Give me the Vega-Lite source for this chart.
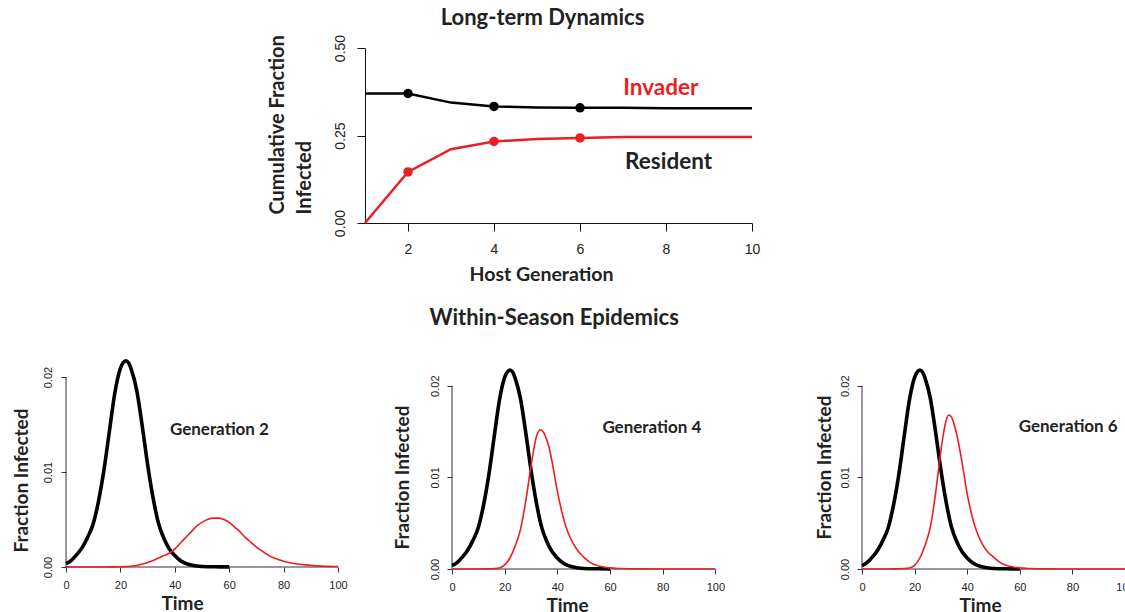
{
  "$schema": "https://vega.github.io/schema/vega-lite/v6.json",
  "background": "white",
  "padding": {"left": 11, "top": 7, "right": 0, "bottom": 0},
  "config": {
    "view": {"stroke": null},
    "font": "Lato",
    "axis": {"grid": false, "labelFont": "Liberation Sans", "labelColor": "#222", "titleFont": "Lato", "titleFontWeight": "bold", "titleColor": "#222", "domainColor": "#333", "tickColor": "#333", "labelFlush": false, "labelOverlap": false},
    "title": {"font": "Lato", "fontWeight": "bold", "fontSize": 22, "color": "#222"}
  },
  "datasets": {
    "longterm": [
      {"gen": 1, "series": "Resident", "value": 0.370}, {"gen": 2, "series": "Resident", "value": 0.370}, {"gen": 3, "series": "Resident", "value": 0.344}, {"gen": 4, "series": "Resident", "value": 0.333}, {"gen": 5, "series": "Resident", "value": 0.330}, {"gen": 6, "series": "Resident", "value": 0.329}, {"gen": 7, "series": "Resident", "value": 0.329}, {"gen": 8, "series": "Resident", "value": 0.328}, {"gen": 9, "series": "Resident", "value": 0.328}, {"gen": 10, "series": "Resident", "value": 0.328},
      {"gen": 1, "series": "Invader", "value": 0.000}, {"gen": 2, "series": "Invader", "value": 0.146}, {"gen": 3, "series": "Invader", "value": 0.211}, {"gen": 4, "series": "Invader", "value": 0.233}, {"gen": 5, "series": "Invader", "value": 0.240}, {"gen": 6, "series": "Invader", "value": 0.243}, {"gen": 7, "series": "Invader", "value": 0.246}, {"gen": 8, "series": "Invader", "value": 0.246}, {"gen": 9, "series": "Invader", "value": 0.246}, {"gen": 10, "series": "Invader", "value": 0.246}
    ],
    "toplabels": [
      {"gen": 7.88, "value": 0.387, "label": "Invader"},
      {"gen": 8.06, "value": 0.173, "label": "Resident"}
    ],
    "frame": [
      {"t": 0, "value": 0, "t2": 0, "value2": 0.02},
      {"t": 0, "value": 0, "t2": 100, "value2": 0}
    ],
    "resident": [
      {"t": 0, "value": 0.00036}, {"t": 2, "value": 0.00071}, {"t": 4, "value": 0.00132}, {"t": 6, "value": 0.00207}, {"t": 8, "value": 0.00315}, {"t": 10, "value": 0.00454}, {"t": 12, "value": 0.0070}, {"t": 14, "value": 0.0103}, {"t": 16, "value": 0.0144}, {"t": 18, "value": 0.0184}, {"t": 20, "value": 0.0209}, {"t": 21, "value": 0.0215}, {"t": 22, "value": 0.0217}, {"t": 23, "value": 0.0215}, {"t": 24, "value": 0.0208}, {"t": 26, "value": 0.0186}, {"t": 28, "value": 0.0149}, {"t": 30, "value": 0.0108}, {"t": 32, "value": 0.0073}, {"t": 34, "value": 0.0046}, {"t": 36, "value": 0.0030}, {"t": 38, "value": 0.0019}, {"t": 40, "value": 0.0012}, {"t": 42, "value": 0.00068}, {"t": 44, "value": 0.00039}, {"t": 46, "value": 0.00021}, {"t": 48, "value": 0.00011}, {"t": 50, "value": 0.00006}, {"t": 55, "value": 0.00002}, {"t": 60, "value": 0.00001}
    ],
    "invader": [
      {"panel": 2, "t": 0, "value": 0}, {"panel": 2, "t": 10, "value": 0}, {"panel": 2, "t": 16, "value": 0.00001}, {"panel": 2, "t": 20, "value": 0.00002}, {"panel": 2, "t": 24, "value": 0.00008}, {"panel": 2, "t": 26, "value": 0.00015}, {"panel": 2, "t": 28, "value": 0.0003}, {"panel": 2, "t": 30, "value": 0.00048}, {"panel": 2, "t": 32, "value": 0.00068}, {"panel": 2, "t": 34, "value": 0.00095}, {"panel": 2, "t": 36, "value": 0.0012}, {"panel": 2, "t": 38, "value": 0.00145}, {"panel": 2, "t": 40, "value": 0.0019}, {"panel": 2, "t": 42, "value": 0.0025}, {"panel": 2, "t": 44, "value": 0.0031}, {"panel": 2, "t": 46, "value": 0.0037}, {"panel": 2, "t": 48, "value": 0.0043}, {"panel": 2, "t": 50, "value": 0.0047}, {"panel": 2, "t": 52, "value": 0.0050}, {"panel": 2, "t": 54, "value": 0.00515}, {"panel": 2, "t": 56, "value": 0.00515}, {"panel": 2, "t": 58, "value": 0.0050}, {"panel": 2, "t": 60, "value": 0.0047}, {"panel": 2, "t": 62, "value": 0.0042}, {"panel": 2, "t": 64, "value": 0.0037}, {"panel": 2, "t": 66, "value": 0.0031}, {"panel": 2, "t": 68, "value": 0.0026}, {"panel": 2, "t": 70, "value": 0.0021}, {"panel": 2, "t": 72, "value": 0.0017}, {"panel": 2, "t": 74, "value": 0.0013}, {"panel": 2, "t": 76, "value": 0.0010}, {"panel": 2, "t": 78, "value": 0.0008}, {"panel": 2, "t": 80, "value": 0.0006}, {"panel": 2, "t": 84, "value": 0.00037}, {"panel": 2, "t": 88, "value": 0.00022}, {"panel": 2, "t": 92, "value": 0.00012}, {"panel": 2, "t": 96, "value": 0.00007}, {"panel": 2, "t": 100, "value": 0.00004},
      {"panel": 4, "t": 0, "value": 0}, {"panel": 4, "t": 10, "value": 0}, {"panel": 4, "t": 14, "value": 0.00001}, {"panel": 4, "t": 16, "value": 0.00004}, {"panel": 4, "t": 18, "value": 0.00012}, {"panel": 4, "t": 20, "value": 0.00045}, {"panel": 4, "t": 22, "value": 0.0012}, {"panel": 4, "t": 24, "value": 0.0025}, {"panel": 4, "t": 26, "value": 0.0043}, {"panel": 4, "t": 28, "value": 0.0074}, {"panel": 4, "t": 30, "value": 0.0112}, {"panel": 4, "t": 32, "value": 0.0144}, {"panel": 4, "t": 33.5, "value": 0.0152}, {"panel": 4, "t": 35, "value": 0.0148}, {"panel": 4, "t": 36, "value": 0.0141}, {"panel": 4, "t": 37, "value": 0.0131}, {"panel": 4, "t": 38, "value": 0.0117}, {"panel": 4, "t": 40, "value": 0.0085}, {"panel": 4, "t": 42, "value": 0.0059}, {"panel": 4, "t": 44, "value": 0.0040}, {"panel": 4, "t": 46, "value": 0.0028}, {"panel": 4, "t": 48, "value": 0.0019}, {"panel": 4, "t": 50, "value": 0.0013}, {"panel": 4, "t": 52, "value": 0.0008}, {"panel": 4, "t": 54, "value": 0.00048}, {"panel": 4, "t": 56, "value": 0.0003}, {"panel": 4, "t": 58, "value": 0.0002}, {"panel": 4, "t": 60, "value": 0.00012}, {"panel": 4, "t": 64, "value": 0.00005}, {"panel": 4, "t": 70, "value": 0.00001}, {"panel": 4, "t": 80, "value": 0}, {"panel": 4, "t": 100, "value": 0},
      {"panel": 6, "t": 0, "value": 0}, {"panel": 6, "t": 10, "value": 0}, {"panel": 6, "t": 16, "value": 0.00004}, {"panel": 6, "t": 18, "value": 0.0001}, {"panel": 6, "t": 20, "value": 0.0004}, {"panel": 6, "t": 22, "value": 0.0012}, {"panel": 6, "t": 24, "value": 0.0026}, {"panel": 6, "t": 26, "value": 0.0046}, {"panel": 6, "t": 28, "value": 0.0083}, {"panel": 6, "t": 30, "value": 0.0129}, {"panel": 6, "t": 31, "value": 0.0148}, {"panel": 6, "t": 32, "value": 0.0162}, {"panel": 6, "t": 33, "value": 0.0168}, {"panel": 6, "t": 34, "value": 0.0166}, {"panel": 6, "t": 35, "value": 0.0158}, {"panel": 6, "t": 36, "value": 0.0147}, {"panel": 6, "t": 38, "value": 0.0117}, {"panel": 6, "t": 40, "value": 0.0082}, {"panel": 6, "t": 42, "value": 0.0056}, {"panel": 6, "t": 44, "value": 0.0038}, {"panel": 6, "t": 46, "value": 0.0026}, {"panel": 6, "t": 48, "value": 0.0018}, {"panel": 6, "t": 50, "value": 0.0013}, {"panel": 6, "t": 52, "value": 0.0008}, {"panel": 6, "t": 54, "value": 0.00048}, {"panel": 6, "t": 56, "value": 0.0003}, {"panel": 6, "t": 58, "value": 0.0002}, {"panel": 6, "t": 60, "value": 0.00012}, {"panel": 6, "t": 64, "value": 0.00005}, {"panel": 6, "t": 70, "value": 0.00001}, {"panel": 6, "t": 80, "value": 0}, {"panel": 6, "t": 100, "value": 0}
    ],
    "genlabels": [
      {"panel": 2, "t": 56.4, "value": 0.01445, "label": "Generation 2"},
      {"panel": 4, "t": 75.9, "value": 0.01541, "label": "Generation 4"},
      {"panel": 6, "t": 78.4, "value": 0.01548, "label": "Generation 6"}
    ]
  },
  "spacing": 22,
  "vconcat": [
    {
      "hconcat": [
        {"width": 299, "height": 10, "data": {"values": [{"s": 0}]}, "mark": {"type": "point", "opacity": 0}, "encoding": {}},
        {
          "width": 387, "height": 175,
          "title": {"text": "Long-term Dynamics", "frame": "group", "anchor": "middle", "dx": -16, "offset": 4},
          "data": {"name": "longterm"},
          "encoding": {
            "x": {"field": "gen", "type": "quantitative", "scale": {"domain": [1, 10], "nice": false, "zero": false},
                  "axis": {"values": [2, 4, 6, 8, 10], "title": "Host Generation", "tickSize": 8, "labelFontSize": 14, "labelBaseline": "middle", "labelPadding": 18, "titleFontSize": 19.5, "titleX": 176, "titleY": 51, "titleBaseline": "middle", "titleAlign": "center", "domainColor": "#111", "tickColor": "#111"}},
            "y": {"field": "value", "type": "quantitative", "scale": {"domain": [0, 0.5], "nice": false},
                  "axis": {"values": [0, 0.25, 0.5], "format": ".2f", "labelAngle": -90, "labelAlign": "center", "labelBaseline": "middle", "tickSize": 8, "labelPadding": 17, "labelFontSize": 14, "title": ["Cumulative Fraction", "Infected"], "titleFontSize": 20, "titleLineHeight": 27, "titleAngle": -90, "titleAlign": "left", "titleBaseline": "middle", "titleX": -88, "titleY": 166, "domainColor": "#111", "tickColor": "#111"}}
          },
          "layer": [
            {"transform": [{"filter": "datum.series == 'Resident'"}], "mark": {"type": "line", "color": "#000", "strokeWidth": 2.5}},
            {"transform": [{"filter": "datum.series == 'Invader'"}], "mark": {"type": "line", "color": "#ee1d23", "strokeWidth": 2.5}},
            {"transform": [{"filter": "datum.series == 'Resident' && (datum.gen == 2 || datum.gen == 4 || datum.gen == 6)"}], "mark": {"type": "circle", "color": "#000", "size": 90, "opacity": 1}},
            {"transform": [{"filter": "datum.series == 'Invader' && (datum.gen == 2 || datum.gen == 4 || datum.gen == 6)"}], "mark": {"type": "circle", "color": "#ee1d23", "size": 90, "opacity": 1}},
            {"data": {"name": "toplabels"}, "mark": {"type": "text", "font": "Lato", "fontWeight": "bold", "fontSize": 22.5},
             "encoding": {"text": {"field": "label"}, "color": {"field": "label", "type": "nominal", "scale": {"domain": ["Invader", "Resident"], "range": ["#ee1d23", "#222"]}, "legend": null}}}
          ]
        }
      ],
      "spacing": 0,
      "bounds": "flush"
    },
    {
      "title": {"text": "Within-Season Epidemics", "anchor": "middle", "dx": -19, "offset": 24},
      "spacing": 114,
      "bounds": "flush",
      "hconcat": [
        {
          "width": 272, "height": 190,
          "encoding": {
            "x": {"field": "t", "type": "quantitative", "scale": {"domain": [0, 100], "nice": false},
                  "axis": {"values": [0, 20, 40, 60, 80, 100], "domain": false, "tickSize": 5, "labelFontSize": 11, "labelBaseline": "middle", "labelPadding": 13, "title": "Time", "titleFontSize": 19, "titleX": 116, "titleY": 36, "titleBaseline": "middle", "titleAlign": "center"}},
            "y": {"field": "value", "type": "quantitative", "scale": {"domain": [0, 0.02], "nice": false},
                  "axis": {"values": [0, 0.01, 0.02], "format": ".2f", "domain": false, "labelAngle": -90, "labelAlign": "center", "labelBaseline": "middle", "tickSize": 5, "labelPadding": 13, "labelFontSize": 11, "title": "Fraction Infected", "titleFontSize": 19, "titleAngle": -90, "titleAlign": "center", "titleBaseline": "middle", "titleX": -45, "titleY": 103}}
          },
          "layer": [
            {"data": {"name": "frame"}, "mark": {"type": "rule", "color": "#333", "strokeWidth": 1}, "encoding": {"x2": {"field": "t2"}, "y2": {"field": "value2"}}},
            {"data": {"name": "resident"}, "mark": {"type": "line", "color": "#000", "strokeWidth": 3.6, "interpolate": "monotone"}},
            {"data": {"name": "invader"}, "transform": [{"filter": "datum.panel == 2"}], "mark": {"type": "line", "color": "#ee1d23", "strokeWidth": 1.6, "interpolate": "monotone"}},
            {"data": {"name": "genlabels"}, "transform": [{"filter": "datum.panel == 2"}], "mark": {"type": "text", "font": "Lato", "fontWeight": "bold", "fontSize": 17, "color": "#222"}, "encoding": {"text": {"field": "label"}}}
          ]
        },
        {
          "width": 296, "height": 192,
          "encoding": {
            "x": {"field": "t", "type": "quantitative", "scale": {"domain": [0, 112.4], "nice": false},
                  "axis": {"values": [0, 20, 40, 60, 80, 100], "domain": false, "tickSize": 5, "labelFontSize": 11, "labelBaseline": "middle", "labelPadding": 13, "title": "Time", "titleFontSize": 19, "titleX": 115, "titleY": 36, "titleBaseline": "middle", "titleAlign": "center"}},
            "y": {"field": "value", "type": "quantitative", "scale": {"domain": [0, 0.02095], "nice": false},
                  "axis": {"values": [0, 0.01, 0.02], "format": ".2f", "domain": false, "labelAngle": -90, "labelAlign": "center", "labelBaseline": "middle", "tickSize": 5, "labelPadding": 12, "labelFontSize": 11, "title": "Fraction Infected", "titleFontSize": 19, "titleAngle": -90, "titleAlign": "center", "titleBaseline": "middle", "titleX": -50, "titleY": 100}}
          },
          "layer": [
            {"data": {"name": "frame"}, "mark": {"type": "rule", "color": "#333", "strokeWidth": 1}, "encoding": {"x2": {"field": "t2"}, "y2": {"field": "value2"}}},
            {"data": {"name": "resident"}, "mark": {"type": "line", "color": "#000", "strokeWidth": 3.6, "interpolate": "monotone"}},
            {"data": {"name": "invader"}, "transform": [{"filter": "datum.panel == 4"}], "mark": {"type": "line", "color": "#ee1d23", "strokeWidth": 1.6, "interpolate": "monotone"}},
            {"data": {"name": "genlabels"}, "transform": [{"filter": "datum.panel == 4"}], "mark": {"type": "text", "font": "Lato", "fontWeight": "bold", "fontSize": 17, "color": "#222"}, "encoding": {"text": {"field": "label"}}}
          ]
        },
        {
          "width": 263, "height": 192,
          "encoding": {
            "x": {"field": "t", "type": "quantitative", "scale": {"domain": [0, 100], "nice": false},
                  "axis": {"values": [0, 20, 40, 60, 80, 100], "domain": false, "tickSize": 5, "labelFontSize": 11, "labelBaseline": "middle", "labelPadding": 13, "title": "Time", "titleFontSize": 19, "titleX": 118, "titleY": 36, "titleBaseline": "middle", "titleAlign": "center"}},
            "y": {"field": "value", "type": "quantitative", "scale": {"domain": [0, 0.02095], "nice": false},
                  "axis": {"values": [0, 0.01, 0.02], "format": ".2f", "domain": false, "labelAngle": -90, "labelAlign": "center", "labelBaseline": "middle", "tickSize": 5, "labelPadding": 12, "labelFontSize": 11, "title": "Fraction Infected", "titleFontSize": 19, "titleAngle": -90, "titleAlign": "center", "titleBaseline": "middle", "titleX": -38, "titleY": 90}}
          },
          "layer": [
            {"data": {"name": "frame"}, "mark": {"type": "rule", "color": "#333", "strokeWidth": 1}, "encoding": {"x2": {"field": "t2"}, "y2": {"field": "value2"}}},
            {"data": {"name": "resident"}, "mark": {"type": "line", "color": "#000", "strokeWidth": 3.6, "interpolate": "monotone"}},
            {"data": {"name": "invader"}, "transform": [{"filter": "datum.panel == 6"}], "mark": {"type": "line", "color": "#ee1d23", "strokeWidth": 1.6, "interpolate": "monotone"}},
            {"data": {"name": "genlabels"}, "transform": [{"filter": "datum.panel == 6"}], "mark": {"type": "text", "font": "Lato", "fontWeight": "bold", "fontSize": 17, "color": "#222"}, "encoding": {"text": {"field": "label"}}}
          ]
        }
      ]
    }
  ]
}
